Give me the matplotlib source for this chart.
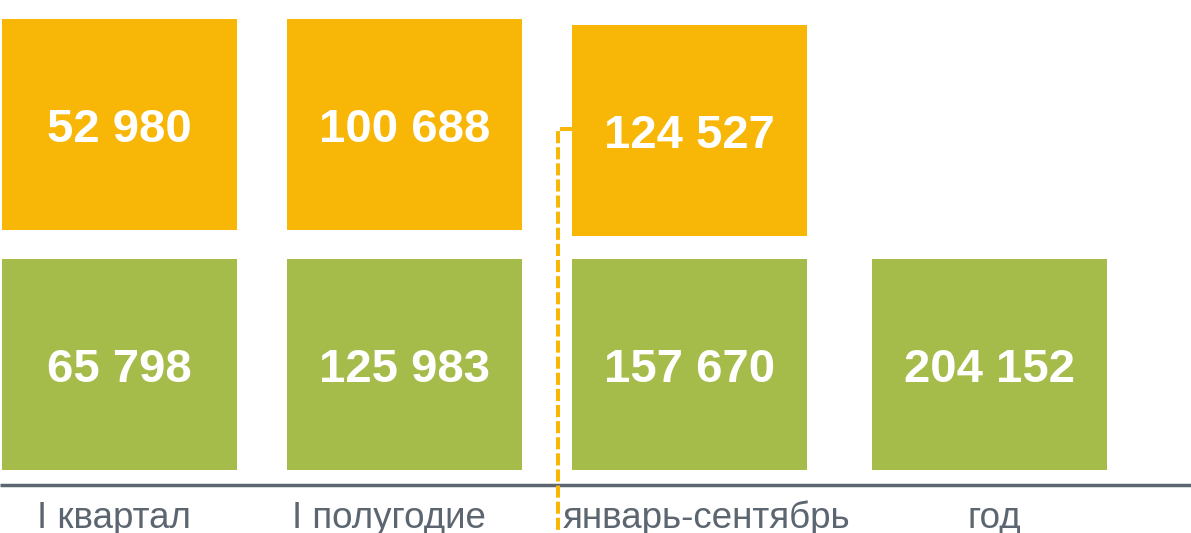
import matplotlib.pyplot as plt

# данные
periods = ['I квартал', 'I полугодие', 'январь-сентябрь', 'год']
plan = [52980, 100688, 124527]
fact = [65798, 125983, 157670, 204152]

orange = '#F8B607'
green = '#A5BB4A'
grey = '#5C6670'

# геометрия в пикселях
box_left = [2, 287, 572, 872]
box_w = 235
box_h = 211
top_row = [19, 19, 25]
bottom_row = 259
label_x = [114, 389, 707, 994]


def fmt(v):
    return f'{v:,}'.replace(',', ' ')


fig = plt.figure(figsize=(11.91, 5.33), dpi=100)
ax = fig.add_axes([0, 0, 1, 1])
ax.set_xlim(0, 1191)
ax.set_ylim(533, 0)
ax.axis('off')

# верхний ряд (оранжевый)
for i, v in enumerate(plan):
    ax.bar(box_left[i], box_h, width=box_w, bottom=top_row[i], align='edge', color=orange)
    ax.text(box_left[i] + box_w / 2, top_row[i] + box_h / 2 + 5.5, fmt(v), ha='center', va='center',
            color='white', fontsize=34, fontweight='bold', family='Liberation Sans')

# нижний ряд (зелёный)
for i, v in enumerate(fact):
    ax.bar(box_left[i], box_h, width=box_w, bottom=bottom_row, align='edge', color=green)
    ax.text(box_left[i] + box_w / 2, bottom_row + box_h / 2 + 5.5, fmt(v), ha='center', va='center',
            color='white', fontsize=34, fontweight='bold', family='Liberation Sans')

# ось
ax.plot([0, 1191], [485, 485], color=grey, lw=2.5, solid_capstyle='butt')

for x, p in zip(label_x, periods):
    ax.text(x, 528, p, ha='center', va='baseline', color=grey, fontsize=26.5, family='Liberation Sans')

# пунктир
ax.plot([572, 558, 558], [129, 129, 545], color=orange, lw=2.9, ls=(0, (3, 1)))

fig.savefig('out.png', dpi=100)
